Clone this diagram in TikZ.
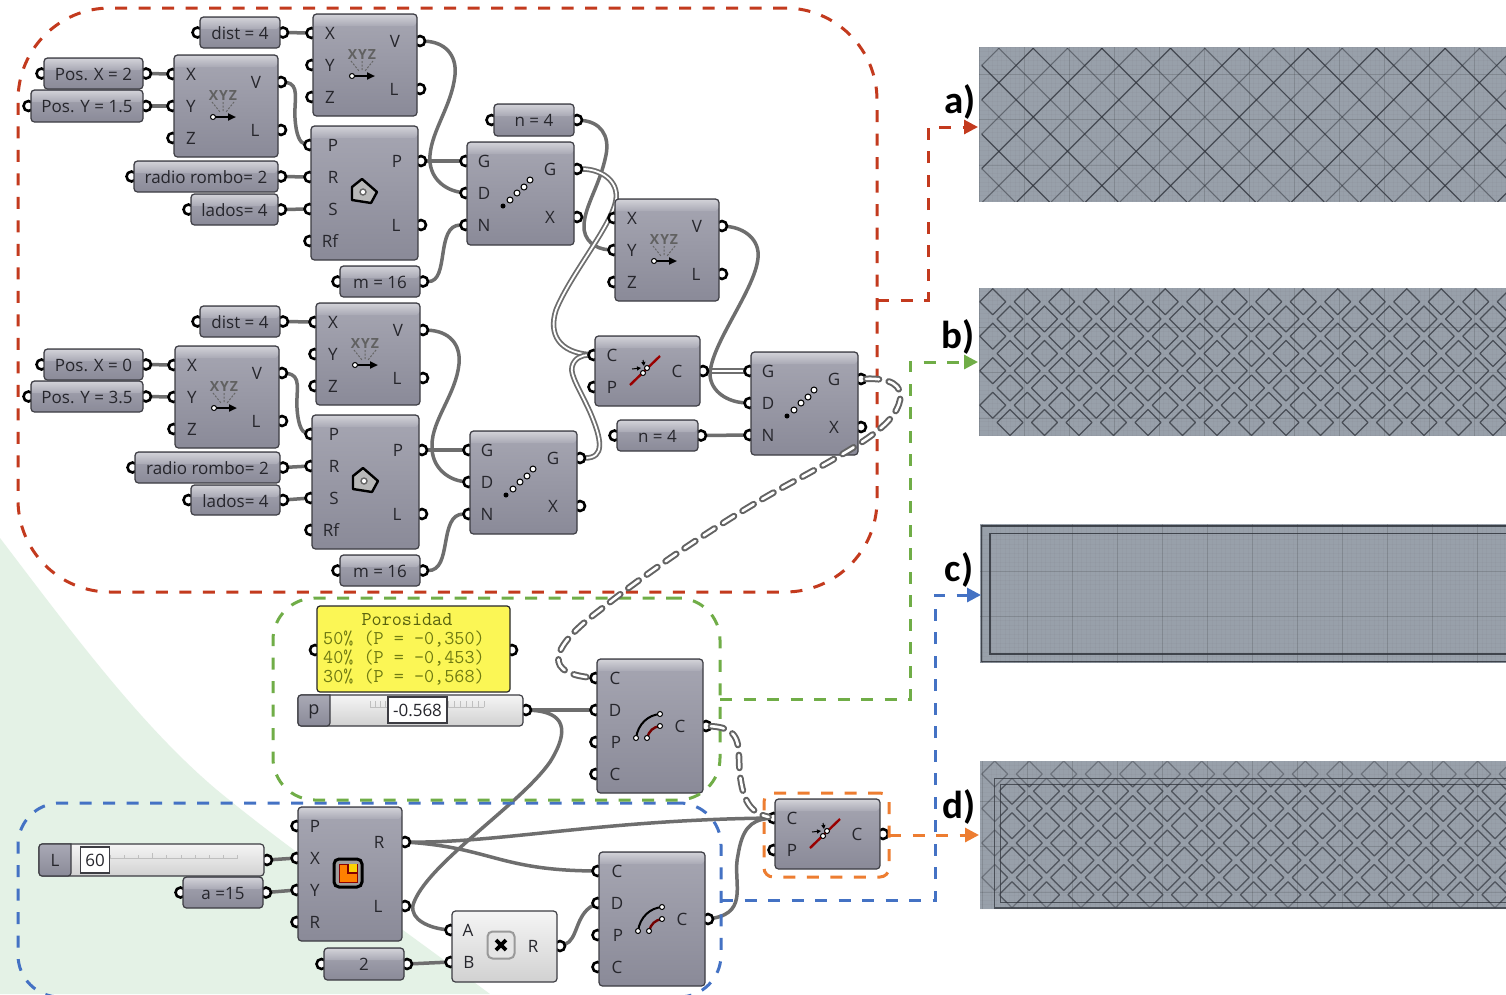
\documentclass[tikz,border=0pt]{standalone}
\usepackage{fontspec}
\setmainfont{Open Sans}
\newfontfamily\clb{Carlito}
\usetikzlibrary{arrows.meta,shapes.geometric}
\definecolor{gtop}{HTML}{A6A6B2}
\definecolor{gbot}{HTML}{8A8A98}
\definecolor{gedge}{HTML}{3C3C42}
\definecolor{hlA}{HTML}{D0D0D6}
\definecolor{hlB}{HTML}{A9A9B5}
\definecolor{wirec}{HTML}{6E6E6E}
\definecolor{txtc}{HTML}{26262C}
\definecolor{redf}{HTML}{C33A1E}
\definecolor{greenf}{HTML}{70AD47}
\definecolor{bluef}{HTML}{4472C4}
\definecolor{orangef}{HTML}{ED7D31}
\definecolor{imgc}{HTML}{98A0AA}
\definecolor{linec}{HTML}{30343C}
\definecolor{olivec}{HTML}{6F7A12}
\definecolor{yellowc}{HTML}{FBF655}
\definecolor{greenbg}{HTML}{E4F2E6}
\pgfdeclarelayer{bgl}
\pgfdeclarelayer{wires}
\pgfdeclarelayer{ports}
\pgfdeclarelayer{top}
\pgfdeclarelayer{over}
\pgfsetlayers{bgl,wires,ports,main,top,over}
\tikzset{
  gbox/.style={draw=gedge,line width=1.2pt,rounded corners=3.5pt,top color=gtop,bottom color=gbot,inner sep=0pt,outer sep=0pt},
  wbox/.style={draw=gedge,line width=1.2pt,rounded corners=3.5pt,top color=white!96!black,bottom color=white!82!black,inner sep=0pt,outer sep=0pt},
  prt/.style={circle,draw=black,line width=2.6pt,fill=white,minimum size=10pt,inner sep=0pt,outer sep=0pt},
  lbl/.style={text=txtc,font=\fontsize{17}{18}\selectfont,inner sep=0pt},
  plbl/.style={text=txtc,font=\fontsize{17}{18}\selectfont,inner sep=0pt,yshift=-.8pt},
  wire/.style={draw=wirec,line width=3.5pt,line cap=round},
  dwire/.style={draw=wirec,line width=1.8pt,double=white,double distance=1.8pt},
  dashw/.style={draw=wirec!90!black,line width=2pt,double=white,double distance=2.6pt,line cap=round,dash pattern=on 13pt off 10pt},
  gfr/.style={line width=3pt,dash pattern=on 12pt off 11.5pt,inner sep=0pt,outer sep=0pt},
  tip/.style={-{Triangle[length=14pt,width=14pt]}},
  capt/.style={font=\clb\bfseries\fontsize{39}{40}\selectfont,text=black,inner sep=0pt},
  ptxt/.style={font=\ttfamily\fontsize{19.6}{20}\selectfont,text=olivec,inner sep=0pt},
  imgbox/.style={fill=imgc,draw=none,inner sep=0pt,outer sep=0pt},
  dia/.style={draw=linec,line width=1.3pt,line join=round},
  sdot/.style={circle,draw=black,line width=1pt,fill=white,minimum size=6pt,inner sep=0pt},
  bdot/.style={circle,fill=black,minimum size=5pt,inner sep=0pt},
}
\newcount\lc
\newcommand{\tl}[3]{\global\advance\lc by 1 \node[lbl] (tl\the\lc) at (#1,#2) {#3};}
\newcommand{\prt}[3]{\begin{pgfonlayer}{ports}\node[prt] (#1) at ({#2},{#3}) {};\end{pgfonlayer}}
% name x1 y1 x2 y2 : grey box with light header
\newcommand{\gb}[6][gbox]{%
  \node[#1,minimum width={(#5-(#3))*1pt},minimum height={(#6-(#4))*1pt}] (#2) at ({(#3+#5)/2},{(#4+#6)/2}) {};
  \shade[top color=hlA,bottom color=hlB,rounded corners=2.8pt] (#3+1,#4+12) |- (#5-1,#4+1) -- (#5-1,#4+12) [sharp corners] -- cycle;
}
\newcommand{\param}[6]{%
  \gb{#1}{#2}{#3}{#4}{#5}
  \prt{#1L}{#2-2.5}{(#3+#5)/2}\prt{#1R}{#4+3}{(#3+#5)/2}
  \node[plbl] (#1T) at ({(#2+#4)/2},{(#3+#5)/2}) {#6};
}
\newcommand{\xyz}[3]{%
  \gb{#1}{#2}{#3}{#2+104}{#3+102}
  \prt{#1X}{#2-1.5}{#3+19}\prt{#1Y}{#2-1.5}{#3+51}\prt{#1Z}{#2-1.5}{#3+83}
  \prt{#1V}{#2+107}{#3+27}\prt{#1W}{#2+107}{#3+75}
  \tl{#2+17}{#3+19}{X}\tl{#2+17}{#3+51}{Y}\tl{#2+17}{#3+83}{Z}
  \tl{#2+82}{#3+27}{V}\tl{#2+81}{#3+75}{L}
  \global\advance\lc by 1
  \node[text=black!62,font=\bfseries\fontsize{14}{14}\selectfont,inner sep=0pt] (tl\the\lc) at (#2+49,#3+40) {X\kern1pt Y\kern1pt Z};
  \draw[black!60,line width=1pt,dash pattern=on 2pt off 1.5pt] (#2+38,#3+47) -- (#2+46,#3+57) (#2+49,#3+47) -- (#2+49,#3+57) (#2+60,#3+47) -- (#2+52,#3+57);
  \draw[black,line width=2pt,-{Triangle[length=8pt,width=7pt]}] (#2+39,#3+62) -- (#2+62,#3+62);
  \node[sdot,minimum size=5pt] (#1D) at (#2+39,#3+62) {};
}
\newcommand{\polyc}[3]{%
  \gb{#1}{#2}{#3}{#2+107}{#3+134}
  \prt{#1P}{#2-1.5}{#3+19}\prt{#1R}{#2-1.5}{#3+51}\prt{#1S}{#2-1.5}{#3+83}\prt{#1F}{#2-1.5}{#3+115}
  \prt{#1O}{#2+110}{#3+35}\prt{#1Q}{#2+110}{#3+99}
  \tl{#2+22}{#3+19}{P}\tl{#2+22}{#3+51}{R}\tl{#2+22}{#3+83}{S}\tl{#2+19}{#3+115}{Rf}
  \tl{#2+86}{#3+35}{P}\tl{#2+85}{#3+99}{L}
  \draw[black,line width=2.4pt,line join=round,fill=black!28] (#2+51,#3+53) -- (#2+66,#3+66) -- (#2+60,#3+77) -- (#2+41,#3+74) -- (#2+41,#3+61) -- cycle;
  \node[circle,draw=black!60,line width=1.4pt,fill=white,minimum size=6pt,inner sep=0pt] (#1I) at (#2+52,#3+66) {};
}
\newcommand{\seriesc}[3]{%
  \gb{#1}{#2}{#3}{#2+107}{#3+103}
  \prt{#1G}{#2-1.5}{#3+19}\prt{#1D}{#2-1.5}{#3+51}\prt{#1N}{#2-1.5}{#3+83}
  \prt{#1O}{#2+110}{#3+27}\prt{#1X}{#2+110}{#3+75}
  \tl{#2+17}{#3+19}{G}\tl{#2+17}{#3+51}{D}\tl{#2+17}{#3+83}{N}
  \tl{#2+83}{#3+27}{G}\tl{#2+83}{#3+75}{X}
  \node[bdot] (#1a) at (#2+36,#3+64) {};
  \node[sdot] (#1b) at (#2+43,#3+58) {};
  \node[sdot] (#1c) at (#2+50,#3+51) {};
  \node[sdot] (#1d) at (#2+57,#3+45) {};
  \node[sdot] (#1e) at (#2+63,#3+38) {};
}
\newcommand{\pullc}[3]{%
  \gb{#1}{#2}{#3}{#2+105}{#3+70}
  \prt{#1C}{#2-1.5}{#3+19}\prt{#1P}{#2-1.5}{#3+51}\prt{#1O}{#2+108}{#3+35}
  \tl{#2+17}{#3+19}{C}\tl{#2+17}{#3+51}{P}\tl{#2+82}{#3+35}{C}
  \draw[red!60!black,line width=2.4pt] (#2+35,#3+49) -- (#2+65,#3+20);
  \draw[black,line width=1pt,-{Triangle[length=4pt,width=4pt]}] (#2+37,#3+33) -- (#2+46,#3+32);
  \draw[black,line width=1pt,-{Triangle[length=4pt,width=4pt]}] (#2+48,#3+24) -- (#2+49,#3+30);
  \node[sdot,minimum size=5pt] (#1a) at (#2+48,#3+37) {};
  \node[sdot,minimum size=5pt] (#1b) at (#2+52,#3+32) {};
}
\newcommand{\arcc}[3]{%
  \gb{#1}{#2}{#3}{#2+106}{#3+134}
  \prt{#1C}{#2-1.5}{#3+19}\prt{#1D}{#2-1.5}{#3+51}\prt{#1P}{#2-1.5}{#3+83}\prt{#1E}{#2-1.5}{#3+115}
  \prt{#1O}{#2+109}{#3+67}
  \tl{#2+18}{#3+19}{C}\tl{#2+18}{#3+51}{D}\tl{#2+19}{#3+83}{P}\tl{#2+18}{#3+115}{C}
  \tl{#2+83}{#3+67}{C}
  \draw[black,line width=2pt] (#2+39,#3+79) .. controls (#2+41,#3+65) and (#2+51,#3+56) .. (#2+63,#3+55);
  \draw[red!45!black,line width=2.4pt] (#2+50,#3+79) .. controls (#2+52,#3+72) and (#2+56,#3+68) .. (#2+63,#3+67);
  \node[sdot,minimum size=5pt] (#1a) at (#2+39,#3+79) {};
  \node[sdot,minimum size=5pt] (#1b) at (#2+63,#3+55) {};
  \node[sdot,minimum size=5pt] (#1c) at (#2+50,#3+79) {};
  \node[sdot,minimum size=5pt] (#1d) at (#2+63,#3+67) {};
}
% image panel background with the Rhino grid: x1 y1 y2, major-x start, major-y start
\newcommand{\rhinogrid}[5]{%
  \foreach \i in {-8,...,120} \draw[black,opacity=.02,line width=.5pt] ({#4+\i*4.5},#2) -- ({#4+\i*4.5},#3);
  \foreach \i in {-8,...,40} \draw[black,opacity=.02,line width=.5pt] (#1,{#5+\i*4.5}) -- (1506,{#5+\i*4.5});
  \foreach \i in {-1,...,12} \draw[black,opacity=.12,line width=.7pt] ({#4+\i*45},#2) -- ({#4+\i*45},#3);
  \foreach \i in {-2,...,4} \draw[black,opacity=.12,line width=.7pt] (#1,{#5+\i*45.5}) -- (1506,{#5+\i*45.5});
}
\newcommand{\dias}[3]{%
  \foreach \r in {0,2,4,6} \foreach \c in {0,...,15} {
    \draw[dia,#3] ({#1+34.5*\c-13},{#2+17.25*\r}) -- ({#1+34.5*\c},{#2+17.25*\r-13}) -- ({#1+34.5*\c+13},{#2+17.25*\r}) -- ({#1+34.5*\c},{#2+17.25*\r+13}) -- cycle;}
  \foreach \r in {1,3,5,7} \foreach \c in {0,...,15} {
    \draw[dia,#3] ({#1+17.25+34.5*\c-13},{#2+17.25*\r}) -- ({#1+17.25+34.5*\c},{#2+17.25*\r-13}) -- ({#1+17.25+34.5*\c+13},{#2+17.25*\r}) -- ({#1+17.25+34.5*\c},{#2+17.25*\r+13}) -- cycle;}
}
\begin{document}
\begin{tikzpicture}[x=1pt,y=-1pt]
\useasboundingbox (0,0) rectangle (1506,994);
\begin{pgfonlayer}{bgl}
\fill[white] (0,0) rectangle (1506,994);
\fill[greenbg] (0,538) .. controls (70,630) and (140,725) .. (217,790) .. controls (290,850) and (370,905) .. (490,994) -- (0,994) -- cycle;
\end{pgfonlayer}

% ---------- image panels
\node[imgbox,minimum width=527pt,minimum height=155pt] (imga) at (1242.5,124.5) {};
\node[imgbox,minimum width=527pt,minimum height=148pt] (imgb) at (1242.5,362) {};
\node[imgbox,minimum width=526pt,minimum height=139pt] (imgc) at (1243,593.5) {};
\node[imgbox,minimum width=526pt,minimum height=148pt] (imgd) at (1243,835) {};
\begin{scope}
  \clip (979,47) rectangle (1506,202);
  \rhinogrid{979}{47}{202}{1024}{74}
\end{scope}
\begin{scope}
  \clip (981.7,48.3) rectangle (1506,201.6);
  \foreach \i in {-4,-2,...,16} \draw[linec,line width=1.2pt,opacity=.8] ({916.2+34.33*\i+47},47) -- ({916.2+34.33*\i+202},202);
  \foreach \i in {-3,-1,...,17} \draw[linec,line width=1.1pt,opacity=.5] ({916.2+34.33*\i+47},47) -- ({916.2+34.33*\i+202},202);
  \foreach \i in {-1,1,...,21} \draw[linec,line width=1.2pt,opacity=.8] ({1047.17+34.33*\i-47},47) -- ({1047.17+34.33*\i-202},202);
  \foreach \i in {-2,0,...,20} \draw[linec,line width=1.1pt,opacity=.5] ({1047.17+34.33*\i-47},47) -- ({1047.17+34.33*\i-202},202);
\end{scope}
\begin{scope}
  \clip (979,288) rectangle (1506,436);
  \rhinogrid{979}{288}{436}{1024}{327}
  \dias{992.7}{301.7}{opacity=.75}
\end{scope}
\begin{scope}
  \clip (980,524) rectangle (1506,663);
  \rhinogrid{980}{524}{663}{1027.7}{571}
  \draw[linec,line width=1.4pt,opacity=.85] (981.7,526) rectangle (1520,661.7);
  \draw[linec,line width=1.4pt,opacity=.85] (990,533.3) rectangle (1520,654);
\end{scope}
\begin{scope}
  \clip (980,761) rectangle (1506,909);
  \rhinogrid{980}{761}{909}{1027.7}{801}
  \dias{994.7}{774}{opacity=.4}
  \draw[linec,line width=1.3pt,opacity=.75] (994.7,778.3) rectangle (1520,908);
  \draw[linec,line width=1.3pt,opacity=.75] (1000.7,784.3) rectangle (1520,902.3);
  \clip (1000.7,784.3) rectangle (1520,902.3);
  \dias{994.7}{774}{opacity=.45}
\end{scope}
\node[capt] (capa) at (960,102) {a)};
\node[capt] (capb) at (958,337) {b)};
\node[capt] (capc) at (959,570) {c)};
\node[capt] (capd) at (959,807) {d)};

% ---------- upper group
\param{dA}{200}{17}{280}{48}{dist = 4}
\xyz{xA}{313}{14}
\param{pxA}{44}{58}{143}{89}{Pos. X = 2}
\param{pyA}{31}{90}{143}{122}{Pos. Y = 1.5}
\xyz{xB}{174}{55}
\polyc{pA}{311}{126}
\param{rA}{134}{161}{278}{192}{radio rombo= 2}
\param{lA}{191}{194}{278}{225}{lados= 4}
\param{mA}{340}{266}{420}{297}{m = 16}
\seriesc{sA}{467}{142}
\param{nA}{494}{104}{574}{136}{n = 4}
\xyz{xC}{615}{199}
\pullc{cA}{595}{336}
\seriesc{sC}{751}{352}
\param{nB}{617}{420}{698}{451}{n = 4}
\param{dB}{200}{306}{280}{337}{dist = 4}
\xyz{xD}{316}{303}
\param{pxB}{44}{349}{143}{380}{Pos. X = 0}
\param{pyB}{31}{381}{143}{412}{Pos. Y = 3.5}
\xyz{xE}{175}{346}
\polyc{pB}{312}{415}
\param{rB}{135}{452}{280}{483}{radio rombo= 2}
\param{lB}{191}{485}{280}{515}{lados= 4}
\param{mB}{340}{555}{420}{586}{m = 16}
\seriesc{sB}{470}{431}

% ---------- middle group
\node[draw=black!85,line width=1.2pt,rounded corners=3pt,fill=yellowc,minimum width=193pt,minimum height=86pt,inner sep=0pt,outer sep=0pt] (panel) at (413.5,649) {};
\prt{panelL}{315}{650}\prt{panelR}{512}{650}
\node[ptxt,text=olivec!80!black] (pt0) at (407,620) {Porosidad};
\node[ptxt,anchor=west] (pt1) at (323,639) {50\% (P = -0,350)};
\node[ptxt,anchor=west] (pt2) at (323,658) {40\% (P = -0,453)};
\node[ptxt,anchor=west] (pt3) at (323,677) {30\% (P = -0,568)};
\node[wbox,minimum width=225pt,minimum height=31pt] (sliP) at (410.5,710.5) {};
\shade[top color=hlB,bottom color=gbot,draw=gedge,line width=1.2pt,rounded corners=3pt] (330,695) -- (298,695) -- (298,726) -- (330,726) [sharp corners] -- cycle;
\node[text=txtc,font=\fontsize{18}{20}\selectfont,inner sep=0pt] (sliPt) at (314,712) {p};
\foreach \i in {0,...,4} \draw[black!25,line width=.7pt] ({370+\i*5},701) -- ({370+\i*5},707);
\foreach \i in {0,...,6} \draw[black!25,line width=.7pt] ({448+\i*6},701) -- ({448+\i*6},707);
\draw[black!25,line width=.7pt] (370,707) -- (388,707) (447,707) -- (484,707);
\node[draw=gedge,line width=1.4pt,fill=white,minimum width=59pt,minimum height=26pt,inner sep=0pt,font=\fontsize{17}{18}\selectfont,text=txtc] (sliPv) at (417.5,710) {-0.568};
\prt{sliPR}{526}{710}
\arcc{aA}{597}{659}

% ---------- lower group
\node[wbox,minimum width=225pt,minimum height=32pt] (sliL) at (151.5,860) {};
\shade[top color=hlB,bottom color=gbot,draw=gedge,line width=1.2pt,rounded corners=3pt] (71,844) -- (39,844) -- (39,876) -- (71,876) [sharp corners] -- cycle;
\node[text=txtc,font=\fontsize{17}{18}\selectfont,inner sep=0pt] (sliLt) at (55,860) {L};
\draw[black!25,line width=.7pt] (110,858) -- (238,858);
\foreach \i in {0,...,9} \draw[black!25,line width=.7pt] ({110+\i*14.2},{\i==3?853:855}) -- ({110+\i*14.2},858);
\node[draw=gedge,line width=1.4pt,fill=white,minimum width=29pt,minimum height=26pt,inner sep=0pt,font=\fontsize{17}{18}\selectfont,text=txtc] (sliLv) at (95,860) {60};
\prt{sliLR}{267}{860}
\param{aP}{183}{877}{263}{908}{a =15}
\gb{rc}{298}{807}{402}{941}
\prt{rcP}{296.5}{826}\prt{rcX}{296.5}{858}\prt{rcY}{296.5}{890}\prt{rcR}{296.5}{922}
\prt{rcO}{405}{842}\prt{rcL}{405}{906}
\tl{315}{826}{P}\tl{315}{858}{X}\tl{315}{890}{Y}\tl{315}{922}{R}\tl{379}{842}{R}\tl{378}{906}{L}
\node[draw=black,line width=3pt,fill=black!38,rounded corners=5pt,minimum size=28pt,inner sep=0pt] (rcI) at (348,873) {};
\node[draw=red!55!black,line width=1pt,fill=orange,minimum size=18pt,inner sep=0pt] (rcJ) at (348,873) {};
\fill[yellow!70!orange] (348,864) rectangle (357,873);
\draw[red!50!black,line width=2.2pt] (348,864) -- (348,873) -- (357,873);
\param{two}{324}{948}{404}{980}{2}
\node[wbox,minimum width=105pt,minimum height=71pt] (mu) at (504.5,946.5) {};
\prt{muA}{450.5}{930}\prt{muB}{450.5}{962}\prt{muO}{560}{946}
\tl{468}{930}{A}\tl{469}{962}{B}\tl{533}{946}{R}
\node[draw=black!40,line width=2pt,fill=white!90!black,rounded corners=5pt,minimum size=27pt,inner sep=0pt] (muI) at (501,945) {};
\draw[black,line width=3.6pt] (496,940) -- (506,950) (506,940) -- (496,950);
\arcc{aB}{599}{852}
\pullc{cB}{775}{799}

% ---------- connectors
\begin{pgfonlayer}{wires}
\draw[wire] (dAR) -- (xAX);
\draw[wire] (pxAR) -- (xBX);
\draw[wire] (pyAR) -- (xBY);
\draw[wire] (xBV) .. controls (300,84) and (294,100) .. (295,118) .. controls (296,135) and (300,143) .. (pAP);
\draw[wire] (rAR) -- (pAR);
\draw[wire] (lAR) -- (pAS);
\draw[wire] (xAV) .. controls (445,42) and (457,55) .. (455,75) .. controls (452,105) and (432,130) .. (430,155) .. controls (428,178) and (445,190) .. (sAD);
\draw[wire] (pAO) -- (sAG);
\draw[wire] (mAR) .. controls (450,282) and (435,225) .. (sAN);
\draw[wire] (nAR) .. controls (600,122) and (610,135) .. (606,155) .. controls (600,185) and (585,205) .. (584,225) .. controls (583,240) and (595,249) .. (xCY);
\draw[dwire] (sAO) .. controls (600,169) and (619,180) .. (616,200) .. controls (612,225) and (570,275) .. (556,310) .. controls (548,335) and (560,352) .. (cAC);
\draw[dwire] (sBO) .. controls (605,458) and (602,440) .. (590,412) .. controls (580,390) and (570,375) .. (572,367) .. controls (574,358) and (582,355) .. (cAC);
\draw[dwire] (cAO) -- (sCG);
\draw[wire] (xCV) .. controls (745,228) and (760,240) .. (758,258) .. controls (755,290) and (710,345) .. (710,375) .. controls (711,392) and (728,402) .. (sCD);
\draw[wire] (nBR) -- (sCN);
\draw[wire] (dBR) -- (xDX);
\draw[wire] (pxBR) -- (xEX);
\draw[wire] (pyBR) -- (xEY);
\draw[wire] (xEV) .. controls (302,375) and (296,390) .. (297,408) .. controls (298,425) and (302,432) .. (pBP);
\draw[wire] (rBR) -- (pBR);
\draw[wire] (lBR) -- (pBS);
\draw[wire] (xDV) .. controls (449,331) and (461,344) .. (459,364) .. controls (456,394) and (432,420) .. (432,445) .. controls (431,468) and (449,480) .. (sBD);
\draw[wire] (pBO) -- (sBG);
\draw[wire] (mBR) .. controls (453,571) and (438,514) .. (sBN);
\draw[wire] (sliPR) -- (aAD);
\draw[wire] (sliPR) .. controls (565,712) and (570,730) .. (550,762) .. controls (520,805) and (425,865) .. (413,905) .. controls (410,920) and (430,928) .. (muA);
\draw[wire] (sliLR) -- (rcX);
\draw[wire] (aPR) -- (rcY);
\draw[wire] (twoR) -- (muB);
\draw[wire] (rcO) .. controls (500,843) and (600,820) .. (cBC);
\draw[wire] (rcO) .. controls (490,848) and (500,870) .. (aBC);
\draw[wire] (muO) .. controls (578,940) and (575,915) .. (aBD);
\draw[wire] (aBO) .. controls (750,912) and (732,880) .. (738,855) .. controls (742,830) and (750,820) .. (cBC);
\end{pgfonlayer}

% ---------- dashed group frames and their connectors
\begin{pgfonlayer}{top}
\begin{scope}
\clip (0,0) rectangle (1506,994);
\node[gfr,draw=bluef,rounded corners=42pt,minimum width=703pt,minimum height=194pt] (fblue) at (369.5,900) {};
\end{scope}
\node[gfr,draw=redf,rounded corners=92pt,minimum width=859pt,minimum height=584pt] (fred) at (447.5,300) {};
\node[gfr,draw=greenf,rounded corners=42pt,minimum width=447pt,minimum height=202pt] (fgreen) at (496.5,699) {};
\node[gfr,draw=orangef,rounded corners=9pt,minimum width=125pt,minimum height=84pt] (forange) at (826.5,835) {};
\coordinate (ta) at (978,127);
\coordinate (tb) at (978,362);
\coordinate (tc) at (981,595);
\coordinate (td) at (979,835);
\draw[gfr,draw=redf,tip] (fred.east) -- (928,300) -- (928,127) -- (ta);
\draw[gfr,draw=greenf,tip] (fgreen.east) -- (910,699) -- (910,362) -- (tb);
\draw[gfr,draw=bluef,tip] (fblue.east) -- (935,900) -- (935,595) -- (tc);
\draw[gfr,draw=orangef,tip] (forange.east) -- (td);
\end{pgfonlayer}
\begin{pgfonlayer}{over}
\draw[dashw] (sCO) .. controls (890,378) and (903,385) .. (900,400) .. controls (895,425) and (860,445) .. (800,478) .. controls (730,515) and (650,570) .. (600,610) .. controls (560,640) and (535,672) .. (aAC);
\draw[dashw] (aAO) .. controls (745,728) and (737,750) .. (740,775) .. controls (743,800) and (750,813) .. (cBC);
\end{pgfonlayer}
\end{tikzpicture}
\end{document}
